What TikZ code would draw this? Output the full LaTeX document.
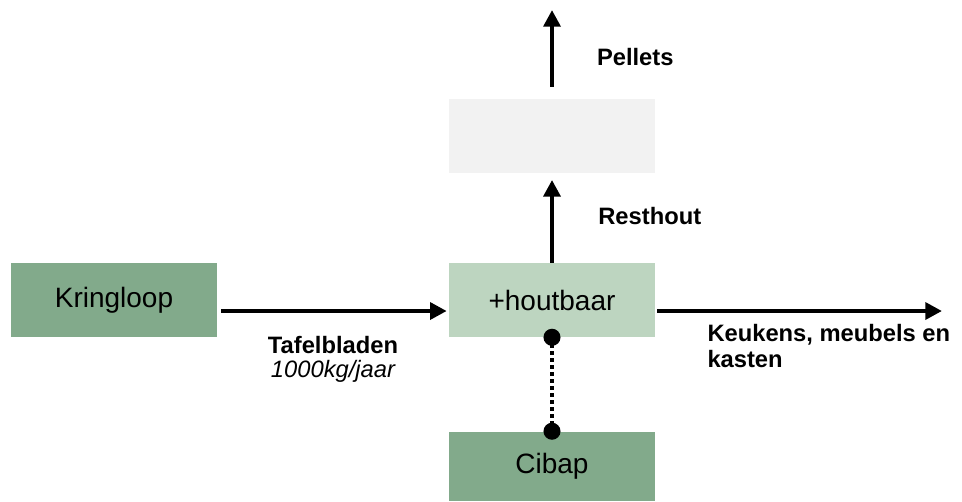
\documentclass[tikz,border=0pt]{standalone}
\usepackage{fontspec}
\setmainfont{Liberation Sans}
\usetikzlibrary{shapes.geometric, arrows.meta}
\definecolor{kringgreen}{HTML}{82AA8B}
\definecolor{houtgreen}{HTML}{BDD5C0}
\definecolor{leeggrey}{HTML}{F2F2F2}
\tikzstyle{darkbox} = [rectangle, minimum width=154.5pt, minimum height=55.5pt, text centered, fill=kringgreen, font=\fontsize{21}{25}\selectfont]
\tikzstyle{lightbox} = [rectangle, minimum width=154.5pt, minimum height=55.5pt, text centered, fill=houtgreen, font=\fontsize{21}{25}\selectfont]
\tikzstyle{emptybox} = [rectangle, minimum width=154.5pt, minimum height=55.5pt, fill=leeggrey]
\tikzstyle{arrow} = [line width=3.5pt, -{Triangle[length=12.5pt,width=12.5pt]}]
\tikzstyle{dotline} = [line width=3pt, dash pattern=on 3pt off 2.25pt]
\tikzstyle{lbl} = [font=\fontsize{17.8}{18}\selectfont\bfseries, inner sep=0pt]

\begin{document}
\begin{tikzpicture}[x=0.75pt,y=-0.75pt,node distance=123pt]
\useasboundingbox (0,0) rectangle (962,501);

\node (kring) [darkbox] at (114,300) {Kringloop};
\node (hout) [lightbox, right of=kring, xshift=205.5pt] {+houtbaar};
\node (leeg) [emptybox, above of=hout] {};
\node (cibap) [darkbox, below of=hout, yshift=-1.5pt, minimum height=51.75pt] {Cibap};
\node (pend) [coordinate, above of=leeg, yshift=-28.5pt] {};
\node (kend) [coordinate, right of=hout, xshift=169.5pt, yshift=-8.25pt] {};

\draw [arrow, shorten <=3pt, shorten >=1.5pt] ([yshift=-8.25pt]kring.east) -- ([yshift=-8.25pt]hout.west)
  node[midway, below=17.25pt, lbl, align=center] {Tafelbladen\\\mdseries\itshape 1000kg/jaar};
\draw [arrow, shorten <=1.5pt] ([yshift=-8.25pt]hout.east) -- (kend)
  node[pos=0.174, anchor=north west, yshift=-8.25pt, lbl, align=left, font=\fontsize{17.8}{19.5}\selectfont\bfseries] {Keukens, meubels en\\kasten};
\draw [arrow, shorten >=5pt] (hout.north) -- (leeg.south)
  node[midway, right=33pt, yshift=1.5pt, lbl] {Resthout};
\draw [arrow, shorten <=9pt] (leeg.north) -- (pend)
  node[midway, right=32pt, yshift=-1.9pt, lbl] {Pellets};

\draw [dotline] (hout.south) -- (cibap.north);
\fill (hout.south) circle (6.4pt);
\fill (cibap.north) circle (6.4pt);

\end{tikzpicture}
\end{document}
